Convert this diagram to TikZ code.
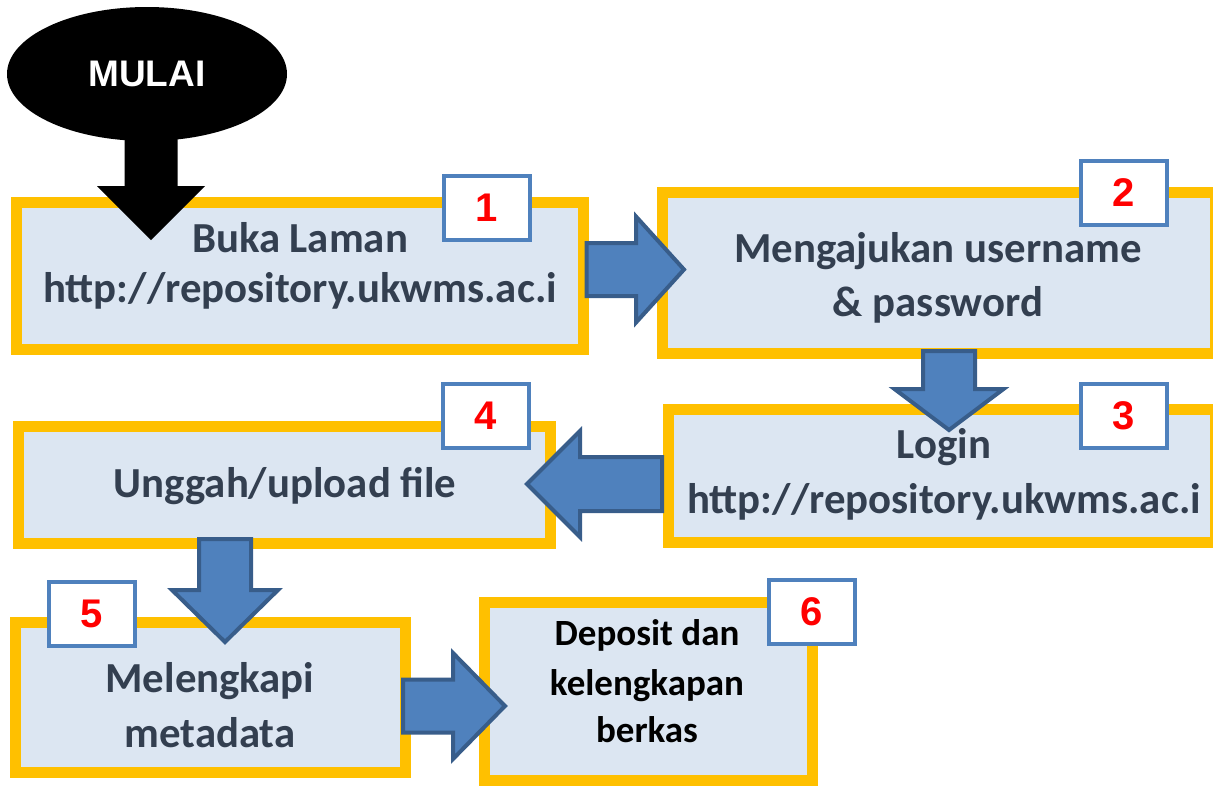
\documentclass[tikz,border=0pt]{standalone}
\usepackage{fontspec}
\setmainfont{Carlito}
\newfontfamily\arialf{Liberation Sans}
\usetikzlibrary{calc,shapes.geometric}
\definecolor{yel}{HTML}{FFC000}
\definecolor{boxfill}{HTML}{DCE6F2}
\definecolor{arrfill}{HTML}{4F81BD}
\definecolor{arrline}{HTML}{385D8A}
\definecolor{txt}{HTML}{333F50}
\definecolor{numred}{HTML}{FF0000}
% #1 style, #2 tail, #3 tip, #4 shaft half width, #5 head half width, #6 head length
\newcommand\fatarrow[6]{%
  \coordinate (hb) at ($(#3)!#6!(#2)$);
  \path[#1] ($(#2)!#4!90:(#3)$) -- ($(hb)!#4!-90:(#2)$) -- ($(hb)!#5!-90:(#2)$) -- (#3)
    -- ($(hb)!#5!90:(#2)$) -- ($(hb)!#4!90:(#2)$) -- ($(#2)!#4!-90:(#3)$) -- cycle;}
\tikzset{
  box/.style={rectangle, draw=yel, line width=11pt, fill=boxfill, inner sep=0pt},
  badge/.style={rectangle, draw=arrfill, line width=4pt, fill=white, inner sep=0pt,
    minimum width=86pt, minimum height=64pt, text=numred,
    font=\arialf\bfseries\fontsize{40}{40}\selectfont},
  lbl/.style={anchor=base, inner sep=0pt, text=txt, font=\bfseries\fontsize{42.8}{50}\selectfont},
  lblsix/.style={anchor=base, inner sep=0pt, text=black, font=\bfseries\fontsize{37}{45}\selectfont},
  bluearrow/.style={fill=arrfill, draw=arrline, line width=4pt, line join=miter},
  blackarrow/.style={fill=black}
}
\begin{document}
\begin{tikzpicture}[x=1pt, y=-1pt]
\useasboundingbox (0,0) rectangle (1213,785);
\clip (0,0) rectangle (1213,785);
\fill[white] (0,0) rectangle (1213,785);

% boxes
\node[box, minimum width=567pt, minimum height=147pt] (b1) at (300,276) {};
\node[box, minimum width=553pt, minimum height=161pt] (b2) at (939,273) {};
\node[box, minimum width=547pt, minimum height=133pt] (b3) at (942,476) {};
\node[box, minimum width=532pt, minimum height=117pt] (b4) at (284.5,485) {};
\node[box, minimum width=390pt, minimum height=150pt] (b5) at (210.5,697.5) {};
\node[box, minimum width=328pt, minimum height=178pt] (b6) at (648.5,691.5) {};

% texts
\node[lbl] (t1a) at (300,252) {Buka Laman};
\node[lbl] (t1b) at (300,302) {http://repository.ukwms.ac.i};
\node[lbl] (t2a) at (938,262) {Mengajukan username};
\node[lbl] (t2b) at (938,316) {\& password};
\node[lbl] (t3a) at (944,458) {Login};
\node[lbl] (t3b) at (944,513) {http://repository.ukwms.ac.i};
\node[lbl] (t4) at (285,497) {Unggah/upload file};
\node[lbl] (t5a) at (210,692) {Melengkapi};
\node[lbl] (t5b) at (210,747) {metadata};
\node[lblsix] (t6a) at (647,645) {Deposit dan};
\node[lblsix] (t6b) at (647,695) {kelengkapan};
\node[lblsix] (t6c) at (647,742) {berkas};

% badges
\node[badge] (n1) at (487,207.5) {1};
\node[badge] (n2) at (1124,192.5) {2};
\node[badge] (n3) at (1124,416) {3};
\node[badge] (n4) at (485.5,416) {4};
\node[badge] (n5) at (92,613.5) {5};
\node[badge] (n6) at (811.5,612) {6};

% start
\coordinate (a0s) at (151,120);
\coordinate (a0t) at (151,240);
\fatarrow{blackarrow}{a0s}{a0t}{26.5pt}{54pt}{54pt}
\node[ellipse, fill=black, minimum width=280pt, minimum height=134pt, inner sep=0pt,
  text=white, font=\arialf\bfseries\fontsize{37}{37}\selectfont] (start) at (147,74) {MULAI};

% connectors
\coordinate (a1s) at ($(b1.east)+(-2.5,-6.5)$);
\coordinate (a1t) at (684,269.5);
\fatarrow{bluearrow}{a1s}{a1t}{26.5pt}{53pt}{48pt}
\coordinate (a2s) at (949,351);
\coordinate (a2t) at (949,430);
\fatarrow{bluearrow}{a2s}{a2t}{26pt}{54.5pt}{41pt}
\coordinate (a3s) at ($(b3.west)+(-1,8)$);
\coordinate (a3t) at (527,484);
\fatarrow{bluearrow}{a3s}{a3t}{27pt}{53pt}{53pt}
\coordinate (a4s) at (225,539);
\coordinate (a4t) at (225,642);
\fatarrow{bluearrow}{a4s}{a4t}{26pt}{53pt}{52pt}
\coordinate (a5s) at (403,706);
\coordinate (a5t) at (505,706);
\fatarrow{bluearrow}{a5s}{a5t}{26.5pt}{53pt}{52pt}
\end{tikzpicture}
\end{document}
